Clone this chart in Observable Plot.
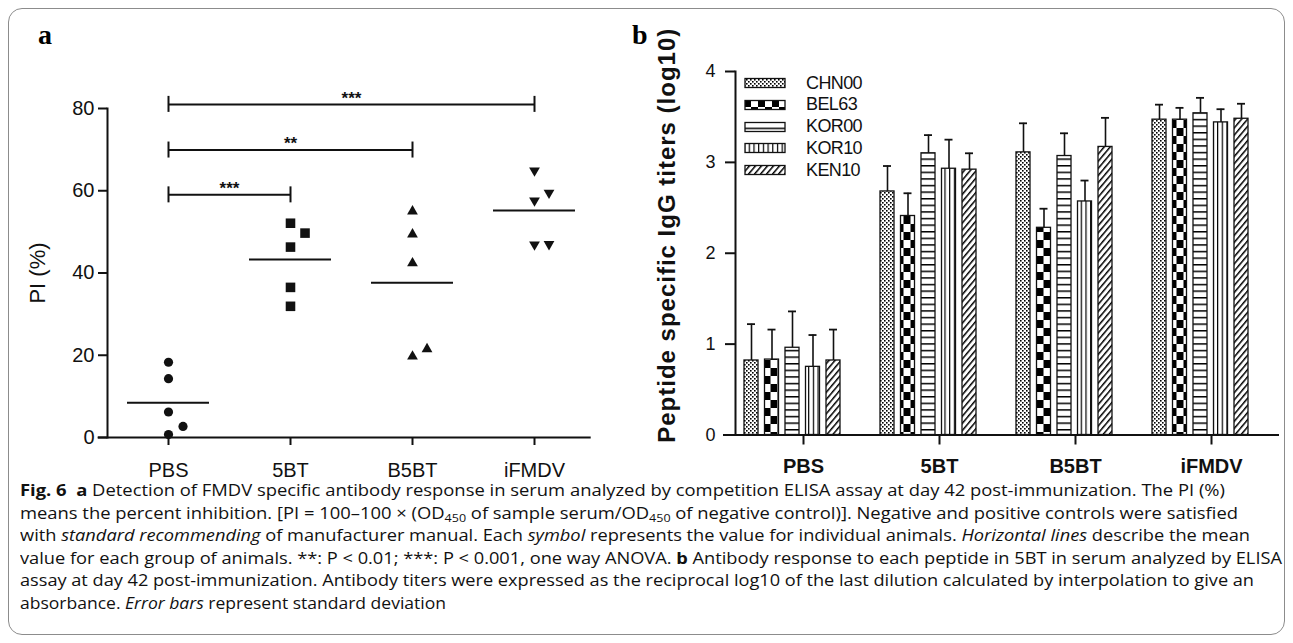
<!DOCTYPE html>
<html><head><meta charset="utf-8">
<script src="https://cdn.jsdelivr.net/npm/d3@7"></script>
<script src="https://cdn.jsdelivr.net/npm/@observablehq/plot@0.6"></script>
<style>
html,body{margin:0;padding:0;background:#fff;}
#root{position:relative;width:1293px;height:643px;overflow:hidden;font-family:"Liberation Sans",Arial,sans-serif;}
#frame{position:absolute;left:8px;top:8px;width:1277px;height:627px;border:1.5px solid #8c8c8c;border-radius:14px;box-sizing:border-box;}
.plabel{position:absolute;font-family:"Liberation Serif","Times New Roman",serif;font-weight:bold;font-size:28px;line-height:28px;}
#plotA,#plotB{position:absolute;top:0;}
#plotA{left:0px}
#plotB{left:620px}
.legrow{position:absolute;left:744px;height:22px;display:flex;align-items:center;font-size:18px;letter-spacing:-0.6px;color:#111;}
.legrow svg{margin-right:20px;}
.cap{position:absolute;left:20px;white-space:nowrap;font-family:"Open Sans","Noto Sans",sans-serif;font-size:16px;line-height:22px;height:22px;transform-origin:0 50%;color:#111;}
.cap sub{font-size:0.68em;vertical-align:-0.3em;line-height:0;}
</style></head>
<body>
<svg width="0" height="0" style="position:absolute">
<defs>
<pattern id="pat0" width="4" height="4" patternUnits="userSpaceOnUse"><rect width="4" height="4" fill="#fff"/><rect width="1.6" height="1.6" fill="#000"/><rect x="2" y="2" width="1.6" height="1.6" fill="#000"/></pattern>
<pattern id="pat1" width="14" height="16" patternUnits="userSpaceOnUse"><rect width="14" height="16" fill="#fff"/><rect width="7" height="8" fill="#000"/><rect x="7" y="8" width="7" height="8" fill="#000"/></pattern>
<pattern id="pat2" width="6" height="6.6" patternUnits="userSpaceOnUse"><rect width="6" height="6.6" fill="#fff"/><rect y="0" width="6" height="1.5" fill="#000"/></pattern>
<pattern id="pat3" width="4.7" height="6" patternUnits="userSpaceOnUse"><rect width="4.7" height="6" fill="#fff"/><rect width="1.2" height="6" fill="#000"/></pattern>
<pattern id="pat4" width="4.6" height="6" patternUnits="userSpaceOnUse" patternTransform="rotate(40)"><rect width="4.6" height="6" fill="#fff"/><rect width="1.5" height="6" fill="#000"/></pattern>
</defs></svg>
<div id="root">
  <div id="frame"></div>
  <div id="plotA"></div>
  <div id="plotB"></div>
  <div class="plabel" style="left:38px;top:21px">a</div>
  <div class="plabel" style="left:632px;top:21px">b</div>
  <div id="legend"></div>
  <div id="caption"></div>
</div>
<script>
// ---------- data: panel a (PI %) ----------
const groups = ["PBS", "5BT", "B5BT", "iFMDV"];
const piPBS = [18.3, 14.3, 6.2, 0.7, 2.7];
const pi5BT = [52.1, 49.7, 46.3, 36.5, 31.9];
const piB5BT = [55.0, 49.4, 42.4, 19.7, 21.5];
const piIFMDV = [64.9, 57.6, 59.5, 46.9, 47.0];
const yTicksA = [0, 20, 40, 60, 80];
const compTo = ["5BT", "B5BT", "iFMDV"];
const compLabel = ["***", "**", "***"];
const compLevel = [59.0, 69.9, 81.0];

// ---------- data: panel b (log10 titers) ----------
const strains = ["CHN00", "BEL63", "KOR00", "KOR10", "KEN10"];
const titerPBS = [0.82, 0.83, 0.96, 0.75, 0.82];
const titer5BT = [2.68, 2.41, 3.10, 2.93, 2.92];
const titerB5BT = [3.11, 2.28, 3.07, 2.57, 3.17];
const titerIFMDV = [3.47, 3.47, 3.54, 3.44, 3.48];
const sdPBS = [0.40, 0.33, 0.40, 0.35, 0.34];
const sd5BT = [0.28, 0.25, 0.20, 0.32, 0.18];
const sdB5BT = [0.32, 0.21, 0.25, 0.23, 0.32];
const sdIFMDV = [0.165, 0.13, 0.17, 0.145, 0.165];
const yTicksB = [0, 1, 2, 3, 4];

const FONT = '"Liberation Sans", Arial, sans-serif';

// ---------- panel a ----------
const piByGroup = [piPBS, pi5BT, piB5BT, piIFMDV];
const overlap = 2.7;
const points = [];
piByGroup.forEach((vals, gi) => {
  const placed = [];
  vals.forEach(v => {
    let side = 0;
    for (const s of [0, 1, -1]) {
      if (!placed.some(p => p.side === s && Math.abs(p.v - v) < overlap)) { side = s; break; }
    }
    placed.push({v, side});
    points.push({group: groups[gi], gi, value: v, side});
  });
});
const means = piByGroup.map((vals, gi) => ({gi, mean: d3.mean(vals)}));
const comparisons = compTo.map((t, i) => ({from: 0, to: groups.indexOf(t), label: compLabel[i], level: compLevel[i]}));

const triangleDown = {
  draw(context, size) {
    const sqrt3 = Math.sqrt(3);
    const y = -Math.sqrt(size / (sqrt3 * 3));
    context.moveTo(0, -y * 2);
    context.lineTo(-sqrt3 * y, y);
    context.lineTo(sqrt3 * y, y);
    context.closePath();
  }
};
const symbolFor = ["circle", "square", "triangle", triangleDown];
const rFor = [4.6, 5.4, 4.0, 4.0];
const shiftA = 0.119, halfMean = 0.336;

const plotA = Plot.plot({
  width: 620, height: 485,
  marginLeft: 107, marginRight: 25, marginTop: 108, marginBottom: 48,
  x: {type: "linear", domain: [-0.5, 3.5], axis: null},
  y: {domain: [0, 80], axis: null},
  style: {fontFamily: FONT, background: "transparent", overflow: "visible", color: "#111"},
  marks: [
    Plot.frame({anchor: "left", stroke: "#111", strokeWidth: 2}),
    Plot.ruleY([0], {insetLeft: -9.4, insetRight: 4.3, stroke: "#111", strokeWidth: 2}),
    Plot.axisY({ticks: yTicksA, tickFormat: "d", tickSize: 9, tickPadding: 4, fontSize: 20, label: null, strokeWidth: 2}),
    Plot.axisX({ticks: [0, 1, 2, 3], tickFormat: i => groups[i], tickSize: 8, tickPadding: 17, fontSize: 20, label: null, strokeWidth: 2}),
    Plot.text(["PI (%)"], {frameAnchor: "left", textAnchor: "middle", dx: -70, rotate: -90, fontSize: 22, fill: "#111"}),
    ...groups.map((g, gi) => Plot.dot(points.filter(p => p.gi === gi), {
      x: p => p.gi + p.side * shiftA, y: "value", symbol: symbolFor[gi], r: rFor[gi], fill: "#111", stroke: "none"
    })),
    Plot.ruleY(means, {x1: d => d.gi - halfMean, x2: d => d.gi + halfMean, y: "mean", stroke: "#111", strokeWidth: 2}),
    Plot.ruleY(comparisons, {x1: d => d.from, x2: d => d.to, y: "level", stroke: "#111", strokeWidth: 2}),
    Plot.ruleX(comparisons, {x: d => d.from, y1: "level", y2: "level", insetTop: -8, insetBottom: -8, stroke: "#111", strokeWidth: 2}),
    Plot.ruleX(comparisons, {x: d => d.to, y1: "level", y2: "level", insetTop: -8, insetBottom: -8, stroke: "#111", strokeWidth: 2}),
    Plot.text(comparisons, {x: d => (d.from + d.to) / 2, y: "level", text: "label", dy: -6, fontSize: 17, fontWeight: "bold", fill: "#111"})
  ]
});
document.getElementById("plotA").appendChild(plotA);

// ---------- panel b ----------
const titers = [titerPBS, titer5BT, titerB5BT, titerIFMDV];
const sds = [sdPBS, sd5BT, sdB5BT, sdIFMDV];
const WB = 673, mlB = 115, mrB = 14;
const bw = (WB - mlB - mrB) / groups.length;
const barW = 14, barStep = 20.5, groupShift = -11, capW = 8;

const seriesMarks = strains.flatMap((s, k) => {
  const rows = groups.map((g, i) => ({group: g, strain: s, value: titers[i][k], sd: sds[i][k]}));
  const dx = groupShift + (k - 2) * barStep;
  return [
    Plot.ruleX(rows, {x: "group", y1: "value", y2: d => d.value + d.sd, dx, stroke: "#111", strokeWidth: 1.6}),
    Plot.tickY(rows, {x: "group", y: d => d.value + d.sd, dx, insetLeft: (bw - capW) / 2, insetRight: (bw - capW) / 2, stroke: "#111", strokeWidth: 1.8}),
    Plot.barY(rows, {x: "group", y: "value", dx, insetLeft: (bw - barW) / 2, insetRight: (bw - barW) / 2, fill: `url(#pat${k})`, stroke: "#111", strokeWidth: 1.3})
  ];
});

const plotB = Plot.plot({
  width: WB, height: 485,
  marginLeft: mlB, marginRight: mrB, marginTop: 71, marginBottom: 50.5,
  x: {domain: groups, padding: 0, axis: null},
  y: {domain: [0, 4], axis: null},
  style: {fontFamily: FONT, background: "transparent", overflow: "visible", color: "#111"},
  marks: [
    ...seriesMarks,
    Plot.frame({anchor: "left", stroke: "#111", strokeWidth: 2}),
    Plot.ruleY([0], {insetLeft: -12, stroke: "#111", strokeWidth: 2}),
    Plot.axisY({ticks: yTicksB, tickFormat: "d", tickSize: 10, tickPadding: 10, fontSize: 18, label: null, strokeWidth: 2}),
    Plot.axisX({tickSize: 10, tickPadding: 14, fontSize: 20, fontWeight: "bold", label: null, strokeWidth: 2}),
    Plot.text(["Peptide specific IgG titers (log10)"], {frameAnchor: "left", textAnchor: "middle", dx: -68, dy: -18, rotate: -90, fontSize: 24, fontWeight: "bold", fill: "#111"})
  ]
});
plotB.querySelectorAll("text").forEach(t => { if (t.textContent.startsWith("Peptide")) t.style.letterSpacing = "1px"; });
document.getElementById("plotB").appendChild(plotB);

// legend
const legend = document.getElementById("legend");
const legTop = 83, legStep = 21.8;
strains.forEach((s, k) => {
  const row = document.createElement("div");
  row.className = "legrow";
  row.style.top = (legTop + k * legStep - 11) + "px";
  row.innerHTML = `<svg width="42" height="12"><rect x="1" y="1.5" width="40" height="9" fill="url(#pat${k})" stroke="#111" stroke-width="1.3"/></svg><span>${s}</span>`;
  legend.appendChild(row);
});

// caption
const capLines = [
  '<b>Fig.&nbsp;6</b>&nbsp; <b>a</b> Detection of FMDV specific antibody response in serum analyzed by competition ELISA assay at day 42 post-immunization. The PI (%)',
  'means the percent inhibition. [PI = 100–100 × (OD<sub>450</sub> of sample serum/OD<sub>450</sub> of negative control)]. Negative and positive controls were satisfied',
  'with <i>standard recommending</i> of manufacturer manual. Each <i>symbol</i> represents the value for individual animals. <i>Horizontal lines</i> describe the mean',
  'value for each group of animals. **: P &lt; 0.01; ***: P &lt; 0.001, one way ANOVA. <b>b</b> Antibody response to each peptide in 5BT in serum analyzed by ELISA',
  'assay at day 42 post-immunization. Antibody titers were expressed as the reciprocal log10 of the last dilution calculated by interpolation to give an',
  'absorbance. <i>Error bars</i> represent standard deviation'
];
const capEnds = [1225, 1238, 1250, 1282, 1254, 446];
const cap = document.getElementById("caption");
const capEls = capLines.map((h, i) => {
  const d = document.createElement("div");
  d.className = "cap";
  d.style.top = (490 + i * 22.5 - 11) + "px";
  d.innerHTML = h;
  cap.appendChild(d);
  return d;
});
function fitCaption() {
  capEls.forEach((d, i) => {
    d.style.transform = "none";
    const w = d.getBoundingClientRect().width;
    d.style.transform = `scaleX(${(capEnds[i] - 20) / w})`;
  });
}
fitCaption();
if (document.fonts && document.fonts.ready) document.fonts.ready.then(fitCaption);
</script>
</body></html>
